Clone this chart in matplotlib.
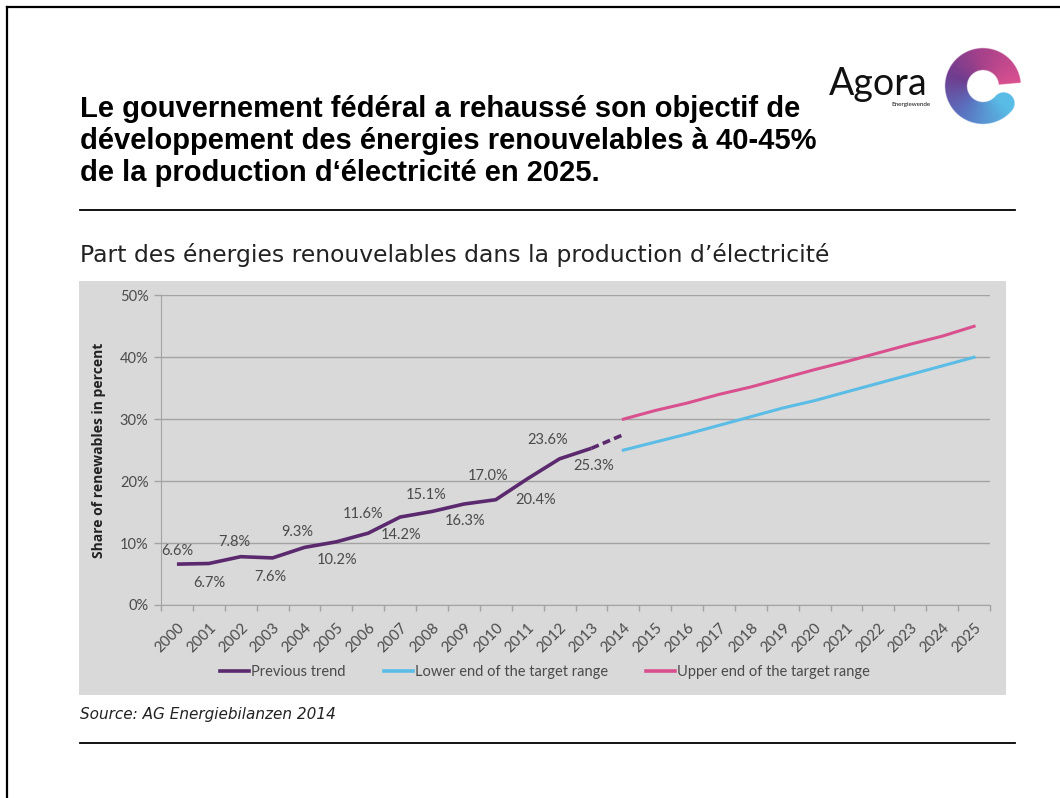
import matplotlib.pyplot as plt
from matplotlib.patches import Rectangle
from matplotlib.lines import Line2D
import matplotlib.colors as mcolors
import numpy as np

# categories and values
years = list(range(2000, 2026))
trend_years = list(range(2000, 2014))
trend = [6.6, 6.7, 7.8, 7.6, 9.3, 10.2, 11.6, 14.2, 15.1, 16.3, 17.0, 20.4, 23.6, 25.3]
est_years = [2013, 2014]
est = [25.3, 27.5]
target_years = list(range(2014, 2026))
lower = [25.0, 26.3, 27.6, 29.0, 30.4, 31.8, 33.0, 34.4, 35.8, 37.2, 38.6, 40.0]
upper = [30.0, 31.4, 32.6, 34.0, 35.2, 36.6, 38.0, 39.3, 40.7, 42.1, 43.4, 45.0]
legend_labels = ['Previous trend', 'Lower end of the target range', 'Upper end of the target range']

# label offsets in pixels (dx, dy)
label_offsets = [(0, 13), (0, -19), (-6, 15), (-2, -19), (-7, 15), (1, -18), (-5, 19), (1, -18),
                 (-6, 16), (1, -17), (-8, 24), (8, -21), (-12, 19), (2, -18)]

PURPLE = '#5b2a6e'
BLUE = '#5bbde6'
PINK = '#d9508f'
GREY_BG = '#d9d9d9'
GRID = '#a3a3a3'
TXT = '#4a4a4a'

W, H = 1060, 798
fig = plt.figure(figsize=(W / 100, H / 100), dpi=100)
fig.patch.set_facecolor('white')

def fx(px):
    return px / W

def fy(py):
    return 1 - py / H

# frame lines and rules
fig.add_artist(Line2D([fx(7), fx(W)], [fy(7), fy(7)], color='black', lw=1.6))
fig.add_artist(Line2D([fx(7), fx(7)], [fy(7), 0], color='black', lw=1.6))
fig.add_artist(Line2D([fx(80), fx(1015)], [fy(210), fy(210)], color='black', lw=1.3))
fig.add_artist(Line2D([fx(80), fx(1015)], [fy(743), fy(743)], color='black', lw=1.3))

# grey chart background
fig.add_artist(Rectangle((fx(79), fy(695)), fx(1006 - 79), (695 - 281) / H,
                         facecolor=GREY_BG, edgecolor='none', zorder=0))

# titles
fig.text(fx(80), fy(141), "Le gouvernement fédéral a rehaussé son objectif de\n"
         "développement des énergies renouvelables à 40-45%\n"
         "de la production d\u2018électricité en 2025.",
         family='Liberation Sans', fontweight='bold', fontsize=21,
         va='center', ha='left', linespacing=1.2)
fig.text(fx(80), fy(255), "Part des énergies renouvelables dans la production d\u2019électricité",
         family='DejaVu Sans', fontsize=16.9, va='center', ha='left', color='#222222')
fig.text(fx(80), fy(715), "Source: AG Energiebilanzen 2014", family='DejaVu Sans',
         style='italic', fontsize=11, va='center', ha='left', color='#222222')

# logo
fig.text(fx(829), fy(95), "Agora", family='Lato', fontsize=27,
         ha='left', va='baseline', color='#111111')
fig.text(fx(931), fy(106), "Energiewende", family='Lato', fontsize=4.5,
         ha='right', va='baseline', color='#111111')
lax = fig.add_axes([fx(942), fy(127), fx(82), 82 / H])
lax.axis('off')
g = np.linspace(-41, 41, 400)
X, Y = np.meshgrid(g, g)
R = np.hypot(X, Y)
TH = np.degrees(np.arctan2(Y, X)) % 360
a0, a1, r_in, r_out = 5, 320, 16, 38
ring = (R >= r_in) & (R <= r_out) & (TH >= a0) & (TH <= a1)
rm = (r_in + r_out) / 2
ex, ey = rm * np.cos(np.radians(a1)), rm * np.sin(np.radians(a1))
cap = np.hypot(X - ex, Y - ey) <= (r_out - r_in) / 2
cmap = mcolors.LinearSegmentedColormap.from_list(
    'agora', [(0.0, '#d9508f'), (0.3, '#a2408a'), (0.5, '#6f3d8f'), (0.72, '#5a72c0'), (1.0, '#58bde6')])
t = np.clip((TH - a0) / (a1 - a0), 0, 1)
t[cap & ~ring] = 1.0
img = cmap(t)
img[..., 3] = (ring | cap).astype(float)
lax.imshow(img, origin='lower', extent=(-41, 41, -41, 41), interpolation='bilinear')
lax.set_aspect('equal')

# main chart
ax = fig.add_axes([fx(161), fy(605), fx(990 - 161), (605 - 295.3) / H])
ax.set_facecolor('none')
ax.set_xlim(1999.5, 2025.5)
ax.set_ylim(0, 50)

ax.plot(trend_years, trend, color=PURPLE, lw=2.6, solid_capstyle='butt', zorder=3)
ax.plot(est_years, est, color=PURPLE, lw=2.6, ls=(0, (2.2, 1.2)), zorder=3)
ax.plot(target_years, lower, color=BLUE, lw=2.2, zorder=3)
ax.plot(target_years, upper, color=PINK, lw=2.2, zorder=3)

for yr, v, (dx, dy) in zip(trend_years, trend, label_offsets):
    ax.annotate(f"{v:.1f}%", (yr, v), xytext=(dx, dy), textcoords='offset pixels',
                ha='center', va='center', fontsize=10.5, family='Lato', color=TXT)

ax.set_yticks([0, 10, 20, 30, 40, 50])
ax.set_yticklabels([f"{t}%" for t in [0, 10, 20, 30, 40, 50]], family='Lato', fontsize=10.5, color=TXT)
ax.yaxis.grid(True, color=GRID, lw=1)
ax.set_axisbelow(True)
ax.set_xticks(years)
ax.set_xticklabels([str(y) for y in years], rotation=45, ha='right', va='top',
                   rotation_mode='anchor', family='Lato', fontsize=10.8, color=TXT)
ax.set_xticks([y + 0.5 for y in [1999] + years], minor=True)
ax.tick_params(axis='x', which='major', length=0, pad=11)
ax.tick_params(axis='x', which='minor', length=4, color=GRID, width=1)
ax.tick_params(axis='y', length=5, color=GRID, width=1, pad=4)
for s in ['top', 'right']:
    ax.spines[s].set_visible(False)
ax.spines['left'].set_color(GRID)
ax.spines['bottom'].set_color(GRID)
ax.set_ylabel('Share of renewables in percent', family='Open Sans', fontweight='bold',
              fontsize=10, color='#222222', labelpad=10)

handles = [Line2D([], [], color=c, lw=2.6) for c in [PURPLE, BLUE, PINK]]
fig.legend(handles, legend_labels, loc='center', bbox_to_anchor=(fx(545), fy(672)), ncol=3,
           frameon=False, handlelength=2.0, handletextpad=0.15, columnspacing=2.6,
           prop={'family': 'Lato', 'size': 10.5}, labelcolor=TXT)

fig.savefig('out.png', dpi=100)
